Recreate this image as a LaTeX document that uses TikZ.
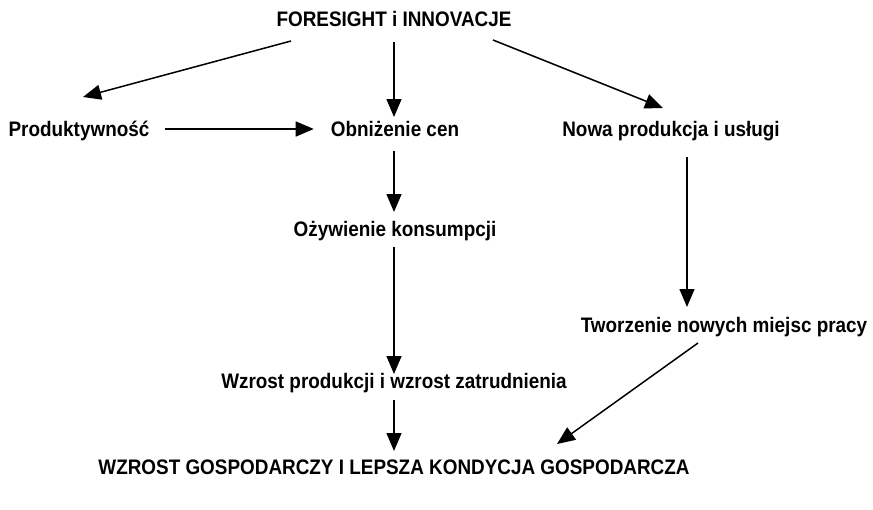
\documentclass[tikz,border=0pt]{standalone}
\usepackage{fontspec}
\setmainfont{Liberation Sans}[FakeStretch=0.9]
\usetikzlibrary{arrows.meta,calc}
\tikzset{
  label/.style={font=\bfseries\fontsize{21}{24}\selectfont, inner sep=0pt, anchor=base},
  conn/.style={line width=1.5pt, -{Triangle[length=18pt,width=15pt]}}
}
\begin{document}
\begin{tikzpicture}[x=1pt, y=-1pt]
  \useasboundingbox (0,0) rectangle (873,509);
  % labels (placed on their baselines)
  \node[label] (fore) at (394,26) {FORESIGHT i INNOVACJE};
  \node[label] (prod) at (79,136) {Produktywność};
  \node[label] (obniz) at (395,136) {Obniżenie cen};
  \node[label] (nowa) at (671,136) {Nowa produkcja i usługi};
  \node[label] (ozyw) at (395,236) {Ożywienie konsumpcji};
  \node[label] (tworz) at (724,332) {Tworzenie nowych miejsc pracy};
  \node[label] (wzrost) at (394,388) {Wzrost produkcji i wzrost zatrudnienia};
  \node[label] (wzg) at (394,474) {WZROST GOSPODARCZY I LEPSZA KONDYCJA GOSPODARCZA};
  % arrows
  \draw[conn] ($(fore.base)+(-103,15)$) -- ($(prod.base)+(4,-39)$);
  \draw[conn] ($(fore.base)+(0,16)$) -- ($(obniz.base)+(-1,-19)$);
  \draw[conn] ($(fore.base)+(99,14)$) -- ($(nowa.base)+(-8,-28)$);
  \draw[conn] ($(prod.base east)+(15,-7)$) -- ($(obniz.base west)+(-17,-7)$);
  \draw[conn] ($(obniz.base)+(-1,15)$) -- ($(ozyw.base)+(-1,-24)$);
  \draw[conn] ($(ozyw.base)+(-1,11)$) -- ($(wzrost.base)+(0,-14)$);
  \draw[conn] ($(nowa.base)+(16,21)$) -- ($(tworz.base)+(-37,-25)$);
  \draw[conn] ($(wzrost.base)+(0,12)$) -- ($(wzg.base)+(0,-23)$);
  \draw[conn] ($(tworz.base)+(-26,11)$) -- ($(wzg.base)+(163,-30)$);
\end{tikzpicture}
\end{document}
